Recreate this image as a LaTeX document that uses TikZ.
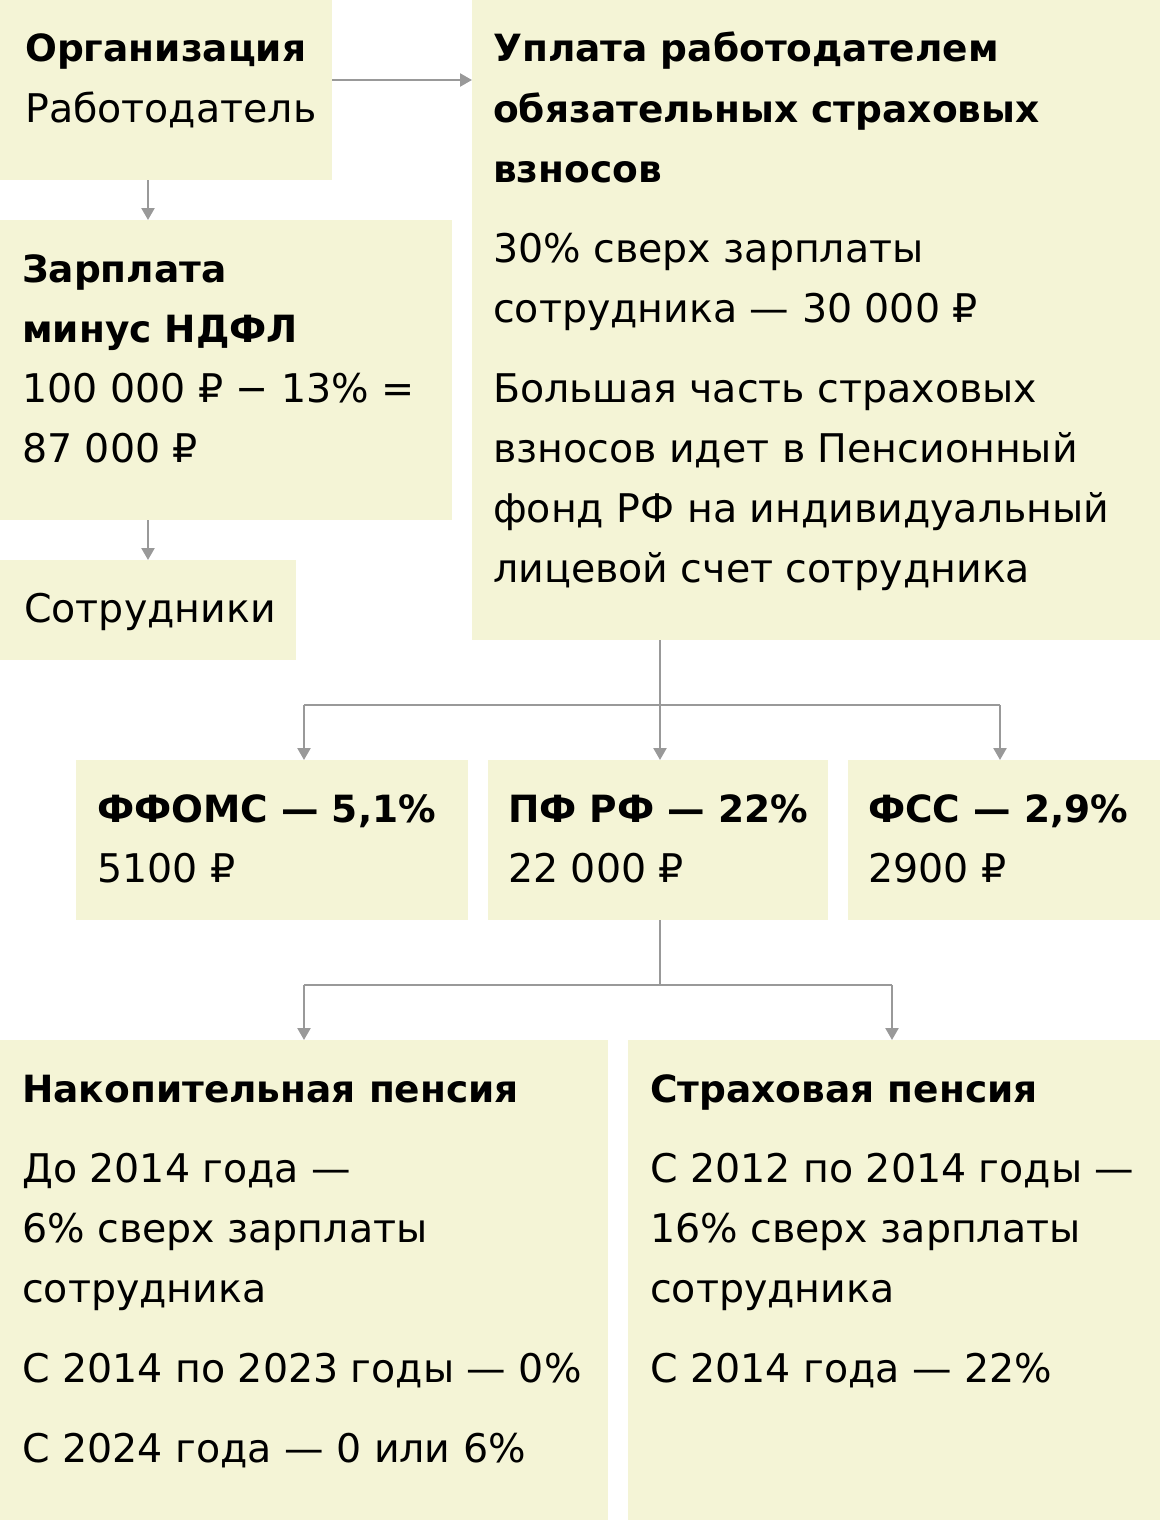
\documentclass[tikz,border=0pt]{standalone}
\usepackage{fontspec}
\setmainfont{DejaVu Sans}
\usetikzlibrary{arrows.meta,calc}
\definecolor{boxc}{RGB}{244,244,214}
\definecolor{linec}{RGB}{153,153,153}
\tikzset{
  box/.style={fill=boxc, draw=none, inner sep=0pt, anchor=north west},
  txt/.style={anchor=base west, inner sep=0pt, font=\fontsize{39.5}{60}\selectfont},
  btxt/.style={txt, font=\fontsize{37.5}{60}\selectfont\bfseries},
  conn/.style={draw=linec, line width=2.4pt},
  arr/.style={conn, -{Triangle[width=13pt,length=12pt]}}
}
\begin{document}
\begin{tikzpicture}[x=1pt,y=-1pt]
\useasboundingbox (0,0) rectangle (1160,1520);
% boxes
\node[box, minimum width=332pt, minimum height=180pt] (org) at (0,0) {};
\node[box, minimum width=688pt, minimum height=640pt] (upl) at (472,0) {};
\node[box, minimum width=452pt, minimum height=300pt] (zp) at (0,220) {};
\node[box, minimum width=296pt, minimum height=100pt] (sotr) at (0,560) {};
\node[box, minimum width=392pt, minimum height=160pt] (ffoms) at (76,760) {};
\node[box, minimum width=340pt, minimum height=160pt] (pf) at (488,760) {};
\node[box, minimum width=312pt, minimum height=160pt] (fss) at (848,760) {};
\node[box, minimum width=608pt, minimum height=480pt] (nak) at (0,1040) {};
\node[box, minimum width=532pt, minimum height=480pt] (str) at (628,1040) {};
% texts
\node[btxt] (t1) at (25,62) {Организация};
\node[txt] (t2) at (25,122) {Работодатель};
\node[btxt] (u1) at (493,62) {Уплата работодателем};
\node[btxt] (u2) at (493,122) {обязательных страховых};
\node[btxt] (u3) at (493,182) {взносов};
\node[txt] (u4) at (493,262) {30\% сверх зарплаты};
\node[txt] (u5) at (493,322) {сотрудника — 30 000 ₽};
\node[txt] (u6) at (493,402) {Большая часть страховых};
\node[txt] (u7) at (493,462) {взносов идет в Пенсионный};
\node[txt] (u8) at (493,522) {фонд РФ на индивидуальный};
\node[txt] (u9) at (493,582) {лицевой счет сотрудника};
\node[btxt] (z1) at (22,282) {Зарплата};
\node[btxt] (z2) at (22,342) {минус НДФЛ};
\node[txt] (z3) at (22,402) {100 000 ₽ − 13\% =};
\node[txt] (z4) at (22,462) {87 000 ₽};
\node[txt] (s1) at (24,622) {Сотрудники};
\node[btxt] (f1) at (97,822) {ФФОМС — 5,1\%};
\node[txt] (f2) at (97,882) {5100 ₽};
\node[btxt] (p1) at (508,822) {ПФ РФ — 22\%};
\node[txt] (p2) at (508,882) {22 000 ₽};
\node[btxt] (c1) at (868,822) {ФСС — 2,9\%};
\node[txt] (c2) at (868,882) {2900 ₽};
\node[btxt] (n1) at (22,1102) {Накопительная пенсия};
\node[txt] (n2) at (22,1182) {До 2014 года —};
\node[txt] (n3) at (22,1242) {6\% сверх зарплаты};
\node[txt] (n4) at (22,1302) {сотрудника};
\node[txt] (n5) at (22,1382) {С 2014 по 2023 годы — 0\%};
\node[txt] (n6) at (22,1462) {С 2024 года — 0 или 6\%};
\node[btxt] (r1) at (650,1102) {Страховая пенсия};
\node[txt] (r2) at (650,1182) {С 2012 по 2014 годы —};
\node[txt] (r3) at (650,1242) {16\% сверх зарплаты};
\node[txt] (r4) at (650,1302) {сотрудника};
\node[txt] (r5) at (650,1382) {С 2014 года — 22\%};
% connectors
\coordinate (a1) at (332,80);
\coordinate (a2) at (148,0);
\coordinate (j1) at (660,705);
\coordinate (j1l) at (304,705);
\coordinate (j1r) at (1000,705);
\coordinate (j2) at (660,985);
\coordinate (j2l) at (304,985);
\coordinate (j2r) at (892,985);
\draw[arr] (a1) -- (a1 -| upl.west);
\draw[arr] (a2 |- org.south) -- (a2 |- zp.north);
\draw[arr] (a2 |- zp.south) -- (a2 |- sotr.north);
\draw[conn] (j1 |- upl.south) -- (j1);
\draw[conn] (j1l) -- (j1r);
\draw[arr] (j1l) -- (j1l |- ffoms.north);
\draw[arr] (j1) -- (j1 |- pf.north);
\draw[arr] (j1r) -- (j1r |- fss.north);
\draw[conn] (j2 |- pf.south) -- (j2);
\draw[conn] (j2l) -- (j2r);
\draw[arr] (j2l) -- (j2l |- nak.north);
\draw[arr] (j2r) -- (j2r |- str.north);
\end{tikzpicture}
\end{document}
